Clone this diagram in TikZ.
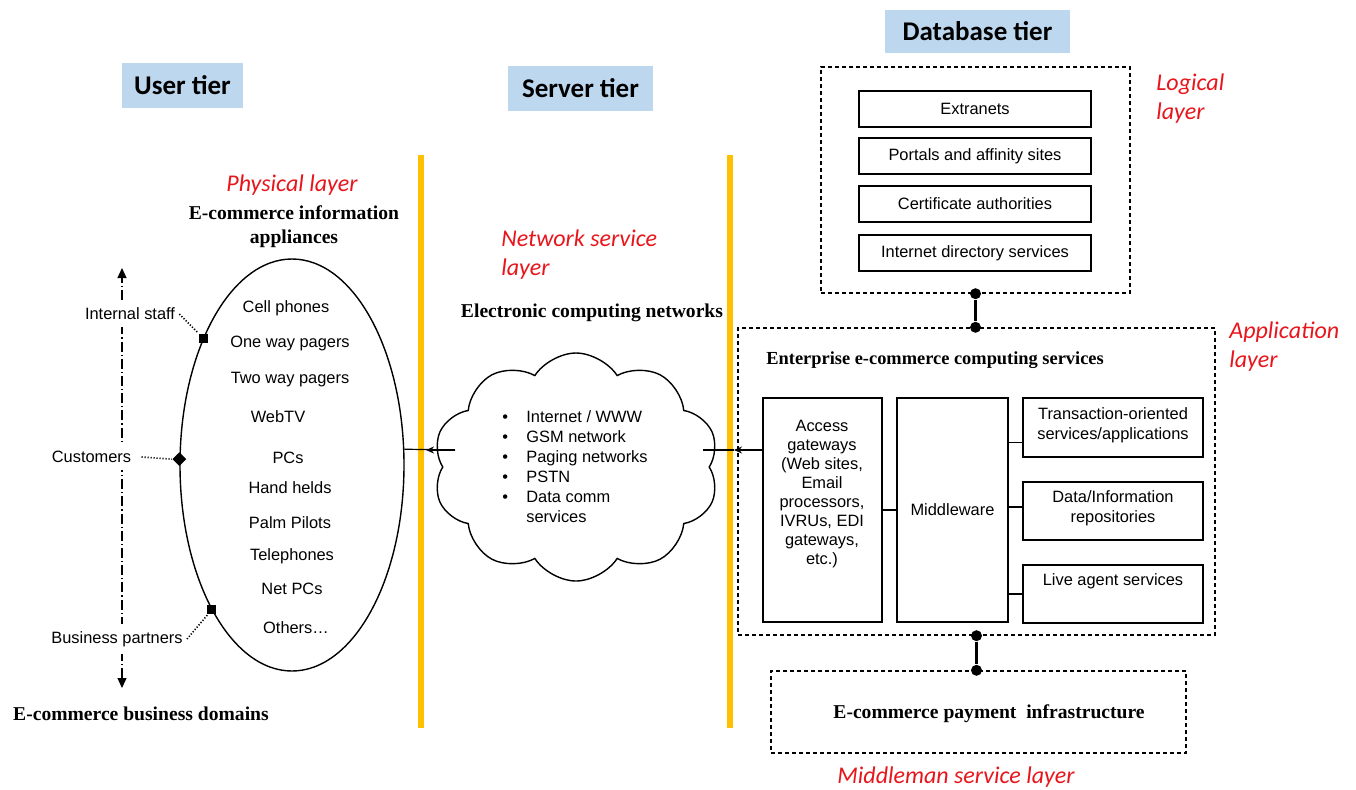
\documentclass[tikz,border=0pt]{standalone}
\usepackage{fontspec}
\setmainfont{Liberation Sans}
\newfontfamily\headfont{Liberation Serif}
\newfontfamily\notefont{Carlito}
\usetikzlibrary{shapes.geometric,shapes.symbols,arrows.meta}
\definecolor{tierblue}{RGB}{189,215,238}
\definecolor{rail}{RGB}{255,192,0}
\definecolor{notered}{RGB}{232,22,28}

\tikzset{
  body/.style={font=\fontsize{8.2}{10}\selectfont, inner sep=0pt},
  head/.style={font=\headfont\bfseries\fontsize{9.8}{12}\selectfont, inner sep=0pt, align=center},
  note/.style={font=\notefont\itshape\fontsize{12}{14.5}\selectfont, text=notered, inner sep=0pt, align=left},
  tier/.style={fill=tierblue, font=\notefont\bfseries\fontsize{13.5}{16}\selectfont, inner sep=0pt},
  frame/.style={draw, line width=0.7pt, inner sep=0pt},
  dframe/.style={draw, line width=0.7pt, dash pattern=on 2pt off 1.5pt, inner sep=0pt},
  joint/.style={circle, fill, inner sep=0pt, minimum size=5.5pt},
  link/.style={line width=1.2pt},
  thinlink/.style={line width=0.6pt},
  tiplink/.style={line width=0.6pt, -{Stealth[length=4pt,width=3.5pt]}},
  marker/.style={rectangle, fill, inner sep=0pt, minimum size=4.5pt},
  leader/.style={line width=0.8pt, dash pattern=on 0.6pt off 0.9pt},
  axis/.style={line width=0.6pt, dash pattern=on 5pt off 1.5pt on 0.6pt off 1.5pt,
    {Triangle[length=5pt,width=4.5pt]}-{Triangle[length=5pt,width=4.5pt]}},
  domainlabel/.style={body, fill=white, inner xsep=2pt, inner ysep=3.5pt},
  railline/.style={draw=rail, line width=3pt},
}

\begin{document}
\begin{tikzpicture}[x=0.5pt, y=-0.5pt]
\useasboundingbox (0,0) rectangle (1356,789);
\fill[white] (0,0) rectangle (1356,789);

% tier headings
\node[tier, minimum width=60.5pt, minimum height=22.5pt] (usertier) at (182.5,85.5) {User tier};
\node[tier, minimum width=72.5pt, minimum height=22.5pt] (servertier) at (580.5,88.5) {Server tier};
\node[tier, minimum width=92.5pt, minimum height=21.5pt] (dbtier) at (977.5,31.5) {Database tier};

% tier separators
\draw[railline] (421,155) -- (421,728);
\draw[railline] (730,155) -- (730,728);

% ---------------- user tier ----------------
\node[note] (physlayer) at (292,185) {Physical layer};
\node[head] (appltitle) at (294,227) {E-commerce information\\appliances};
\node[ellipse, draw, line width=0.7pt, minimum width=112pt, minimum height=206pt, inner sep=0pt] (appl) at (292,465) {};

\foreach \t/\x/\y/\n in {Cell phones/286/308/d1, One way pagers/290/343/d2,
  Two way pagers/290/380/d3, WebTV/278/417/d4, PCs/288/458/d5,
  Hand helds/290/488/d6, Palm Pilots/290/523/d7, Telephones/292/556/d8,
  Net PCs/292/589/d9, Others\ldots/296/628/d10}
  \node[body] (\n) at (\x,\y) {\t};

% business domains axis
\coordinate (axtop) at (122,268);
\coordinate (axbot) at (122,688);
\draw[axis] (axbot) -- (axtop);
\node[domainlabel] (lstaff) at (130,314) {Internal staff};
\node[domainlabel] (lcust) at (91.5,457) {Customers};
\node[domainlabel] (lpart) at (117,639) {Business partners};

\node[marker] (mstaff) at (appl.125) {};
\node[diamond, fill, inner sep=0pt, minimum size=7pt] (mcust) at (appl.177) {};
\node[marker] (mpart) at (appl.241) {};
\draw[leader] (lstaff.east) -- (mstaff);
\draw[leader] ([xshift=3pt]lcust.east) -- (mcust.west);
\draw[leader] (lpart.east) -- (mpart);

\node[head] (domains) at (141,714) {E-commerce business domains};

% ---------------- server tier ----------------
\node[note, anchor=west] (netlayer) at (501,255) {Network service\\layer};
\node[head] (nettitle) at (592,313) {Electronic computing networks};
\node[cloud, draw, line width=0.7pt, cloud puffs=10, cloud puff arc=115, aspect=1.3,
  minimum width=143pt, minimum height=114pt, inner sep=0pt] (net) at (576,467) {};
\node[body, anchor=north west] (netlist) at (502,408) {%
  \begin{tabular}{@{}p{12pt}@{}l@{}}
  \textbullet & Internet / WWW\\
  \textbullet & GSM network\\
  \textbullet & Paging networks\\
  \textbullet & PSTN\\
  \textbullet & Data comm\\
              & services
  \end{tabular}};

% ---------------- database tier ----------------
\node[dframe, minimum width=154.5pt, minimum height=113pt] (logical) at (975.5,180) {};
\node[note, anchor=west] (loglayer) at (1156,99) {Logical\\layer};
\foreach \t/\y/\n in {Extranets/109/x1, Portals and affinity sites/156/x2,
  Certificate authorities/204/x3, Internet directory services/253/x4}
  \node[frame, body, minimum width=116pt, minimum height=18pt] (\n) at (975,\y) {\t};

\node[dframe, minimum width=238.5pt, minimum height=153.5pt] (app) at (976.5,481.5) {};
\node[note, anchor=west] (applayer) at (1229,347) {Application\\layer};
\node[font=\headfont\bfseries\fontsize{9.2}{11}\selectfont, inner sep=0pt, anchor=west] (enttitle) at (766,360) {Enterprise e-commerce computing services};

\node[frame, minimum width=59.5pt, minimum height=112pt] (ag) at (822.5,510) {};
\node[body, align=center, font=\fontsize{8.2}{9.5}\selectfont] (agtext) at (822,494)
  {Access\\gateways\\(Web sites,\\Email\\processors,\\IVRUs, EDI\\gateways,\\etc.)};
\node[frame, body, minimum width=55.5pt, minimum height=112pt] (mw) at (952.5,510) {Middleware};
\node[frame, body, align=center, minimum width=90pt, minimum height=29.5pt] (tr) at (1113,427.5) {};
\node[body, align=center] (trtext) at (1113,425) {Transaction-oriented\\services/applications};
\node[frame, body, align=center, minimum width=90pt, minimum height=29pt] (dr) at (1113,511) {};
\node[body, align=center] (drtext) at (1113,508) {Data/Information\\repositories};
\node[frame, body, minimum width=90pt, minimum height=29pt] (la) at (1113,594) {};
\node[body] (latext) at (1113,581) {Live agent services};

\draw[thinlink] (ag.east) -- (mw.west);
\draw[thinlink] ([yshift=-7.5pt]tr.west -| mw.east) -- ([yshift=-7.5pt]tr.west);
\draw[thinlink] ([yshift=2pt]dr.west -| mw.east) -- ([yshift=2pt]dr.west);
\draw[thinlink] (la.west -| mw.east) -- (la.west);

\node[dframe, minimum width=207.5pt, minimum height=41pt] (pay) at (978.5,712) {};
\node[head] (paytext) at (989,714) {E-commerce payment\ \ infrastructure};
\node[note] (midlayer) at (956,777) {Middleman service layer};

% layer joints
\node[joint] (j1) at (logical.south) {};
\node[joint] (j2) at (logical.south |- app.north) {};
\draw[link] (j1) -- (j2);
\node[joint] (j3) at (app.south) {};
\node[joint] (j4) at (app.south |- pay.north) {};
\draw[link] (j3) -- (j4);

% links across the tier separators
\coordinate (nl) at (455,450);
\coordinate (rl) at (426,450);
\draw[thinlink] (appl.8) -- (nl);
\draw[tiplink] (nl) -- (rl);
\coordinate (nr) at (703,450);
\coordinate (rr) at (734,450);
\draw[thinlink] (rr) -- (nr);
\draw[tiplink] (ag.west |- nr) -- (rr);
\end{tikzpicture}
\end{document}
